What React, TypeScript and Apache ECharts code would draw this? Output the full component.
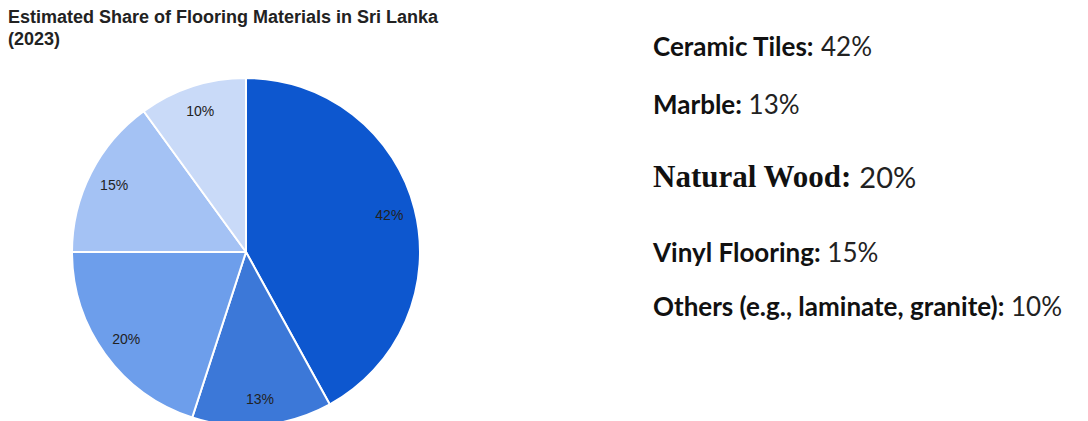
import React, { useEffect, useRef } from "react";
import * as echarts from "echarts";

const titleLines = ["Estimated Share of Flooring Materials in Sri Lanka", "(2023)"];
const categories = ["Ceramic Tiles", "Marble", "Natural Wood", "Vinyl Flooring", "Others (e.g., laminate, granite)"];
const shares = [42, 13, 20, 15, 10];
const colors = ["#0d57cf", "#3c78d8", "#6d9eeb", "#a4c2f4", "#c9daf8"];

export default function App() {
  const ref = useRef<HTMLDivElement>(null);
  useEffect(() => {
    if (!ref.current) return;
    const chart = echarts.init(ref.current, null, { renderer: "svg" });
    const data = categories.map((name, i) => ({ name, value: shares[i], itemStyle: { color: colors[i] } }));
    const center = [246, 252];
    const baselines = [59, 117, 192, 265, 319];
    const graphics = categories.map((name, i) => {
      const isWood = i === 2;
      const size = isWood ? 31 : 26;
      return {
        type: "text",
        x: 653,
        y: baselines[i],
        style: {
          text: `{b|${name}:}{v| ${shares[i]}%}`,
          verticalAlign: "bottom",
          rich: {
            b: {
              fontFamily: isWood ? "Liberation Serif" : "Lato",
              fontWeight: "bold",
              fontSize: size,
              fill: "#111",
              lineHeight: size,
            },
            v: {
              fontFamily: "Lato",
              fontWeight: "normal",
              fontSize: isWood ? 29 : 26,
              fill: "#222",
              lineHeight: size,
            },
          },
        },
      };
    });
    chart.setOption({
      animation: false,
      title: {
        text: titleLines.join("\n"),
        left: 8,
        top: 6,
        padding: 0,
        textStyle: {
          fontFamily: "Liberation Sans",
          fontWeight: "bold",
          fontSize: 18,
          lineHeight: 22,
          color: "#222",
        },
      },
      series: [
        {
          type: "pie",
          center,
          radius: [0, 174],
          startAngle: 90,
          clockwise: true,
          silent: true,
          label: { show: false },
          labelLine: { show: false },
          itemStyle: { borderColor: "#ffffff", borderWidth: 2 },
          data,
        },
        {
          type: "pie",
          center,
          radius: [116, 174],
          startAngle: 90,
          clockwise: true,
          silent: true,
          itemStyle: { color: "transparent", borderWidth: 0 },
          label: {
            show: true,
            position: "inside",
            formatter: (p: any) => `${p.value}%`,
            fontFamily: "Liberation Sans",
            fontSize: 14,
            color: "#222",
          },
          labelLine: { show: false },
          data: categories.map((name, i) => ({ name, value: shares[i] })),
        },
      ],
      graphic: graphics,
    });
    return () => chart.dispose();
  }, []);
  return (
    <div
      ref={ref}
      style={{ position: "fixed", left: 0, top: 0, width: 1088, height: 421, background: "#fff" }}
    />
  );
}
